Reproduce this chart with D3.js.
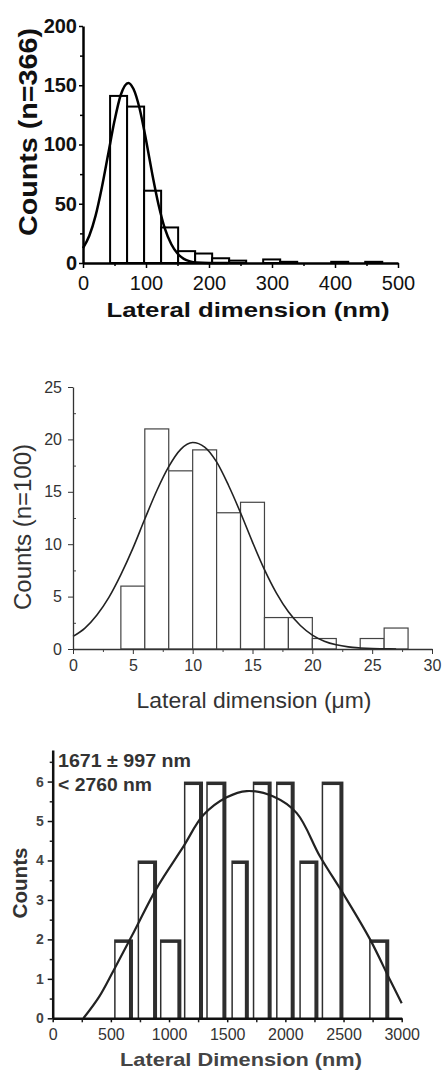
<!DOCTYPE html>
<html>
<head>
<meta charset="utf-8">
<script src="https://cdn.jsdelivr.net/npm/d3@7"></script>
<style>
body { margin: 0; background: #fff; }
svg { display: block; font-family: "Liberation Sans", Arial, sans-serif; }
</style>
</head>
<body>
<div id="chart"></div>
<script>
// Panel 1 - histogram (n=366), nm
var p1BinLeft = [43, 70, 97, 124, 151, 178, 205, 232, 286, 313, 394, 448];
var p1BinWidth = 27;
var p1Counts = [141, 132, 61, 30, 10, 8, 4, 2, 3, 1, 1, 1];
var p1FitX = [0, 10, 20, 30, 40, 50, 60, 72, 80, 90, 100, 110, 120, 130, 140, 150, 160, 170, 180, 200, 230];
var p1FitY = [12.6, 23, 40, 64, 92, 120, 142, 152, 147, 130, 104, 75, 49, 29, 16, 8, 3.5, 1.4, 0.5, 0.1, 0];
var p1XTicks = [0, 100, 200, 300, 400, 500];
var p1YTicks = [0, 50, 100, 150, 200];

// Panel 2 - histogram (n=100), um
var p2BinLeft = [4, 6, 8, 10, 12, 14, 16, 18, 20, 22, 24, 26];
var p2BinWidth = 2;
var p2Counts = [6, 21, 17, 19, 13, 14, 3, 3, 1, 0, 1, 2];
var p2FitX = [0, 1, 2, 3, 4, 5, 6, 7, 8, 9, 10, 11, 12, 13, 14, 15, 16, 17, 18, 19, 20, 21, 22, 23, 24, 25, 26, 27];
var p2FitY = [1.2, 2.0, 3.25, 4.93, 7.1, 9.6, 12.4, 15.1, 17.4, 19.05, 19.7, 19.27, 17.85, 15.6, 13.0, 10.2, 7.57, 5.33, 3.55, 2.24, 1.33, 0.75, 0.4, 0.2, 0.1, 0.04, 0.02, 0];
var p2XTicks = [0, 5, 10, 15, 20, 25, 30];
var p2YTicks = [0, 5, 10, 15, 20, 25];

// Panel 3 - histogram, nm
var p3Left = [528, 730, 922, 1128, 1320, 1536, 1720, 1920, 2120, 2312, 2720];
var p3Right = [690, 897, 1106, 1292, 1493, 1686, 1882, 2080, 2284, 2499, 2893];
var p3Counts = [2, 4, 2, 6, 6, 4, 6, 6, 4, 6, 2];
var p3FitX = [264, 400, 521, 700, 894, 1123, 1295, 1496, 1668, 1897, 2098, 2298, 2499, 2728, 2900, 3000];
var p3FitY = [0, 0.55, 1.2, 2.2, 3.3, 4.35, 5.15, 5.6, 5.76, 5.62, 5.2, 4.1, 3.15, 2.0, 0.97, 0.38];
var p3XTicks = [0, 500, 1000, 1500, 2000, 2500, 3000];
var p3YTicks = [0, 1, 2, 3, 4, 5, 6];
var p3Notes = ["1671 \u00b1 997 nm", "< 2760 nm"];

var fmt = d3.format("d");

var svg = d3.select("#chart")
            .append("svg")
            .attr("width", 443)
            .attr("height", 1072);

// style helper for axes
function styleAxis(sel, stroke, width, size, weight, color) {
    sel.select(".domain").attr("stroke", stroke).attr("stroke-width", width);
    sel.selectAll(".tick line").attr("stroke", stroke).attr("stroke-width", Math.max(1, width * 0.6));
    sel.selectAll("text")
       .attr("font-size", size)
       .attr("font-weight", weight)
       .attr("font-family", "'Liberation Sans', Arial, sans-serif")
       .attr("fill", color);
}
function minorAxis(g, axis, stroke, width) {
    g.call(axis.tickFormat(""));
    g.select(".domain").remove();
    g.selectAll(".tick line").attr("stroke", stroke).attr("stroke-width", width);
}

// ---------- Panel 1 ----------
var x1 = d3.scaleLinear().domain([0, 500]).range([83, 398]);
var y1 = d3.scaleLinear().domain([0, 200]).range([263, 26]);
var g1 = svg.append("g");

g1.selectAll("rect.bar1")
  .data(p1Counts)
  .enter()
  .append("rect")
  .attr("class", "bar1")
  .attr("x", (d, i) => x1(p1BinLeft[i]))
  .attr("y", d => y1(d))
  .attr("width", (d, i) => x1(p1BinLeft[i] + p1BinWidth) - x1(p1BinLeft[i]))
  .attr("height", d => y1(0) - y1(d))
  .attr("fill", "white")
  .attr("stroke", "#000")
  .attr("stroke-width", 2);

var line1 = d3.line().x(d => x1(d[0])).y(d => y1(d[1])).curve(d3.curveMonotoneX);
g1.append("path")
  .datum(p1FitX.map((v, i) => [v, p1FitY[i]]))
  .attr("d", line1)
  .attr("fill", "none")
  .attr("stroke", "#000")
  .attr("stroke-width", 2.5);

minorAxis(g1.append("g").attr("transform", "translate(0,263)"),
          d3.axisBottom(x1).tickValues(d3.range(50, 500, 100)).tickSize(3).tickSizeOuter(0), "#000", 1.5);
minorAxis(g1.append("g").attr("transform", "translate(83,0)"),
          d3.axisLeft(y1).tickValues(d3.range(25, 200, 50)).tickSize(3).tickSizeOuter(0), "#000", 1.5);
g1.append("g")
  .attr("transform", "translate(0,263)")
  .call(d3.axisBottom(x1).tickValues(p1XTicks).tickFormat(fmt).tickSize(5).tickSizeOuter(0).tickPadding(8))
  .call(styleAxis, "#000", 2.5, 20, "normal", "#111");
g1.append("g")
  .attr("transform", "translate(83,0)")
  .call(d3.axisLeft(y1).tickValues(p1YTicks).tickFormat(fmt).tickSize(4).tickSizeOuter(0).tickPadding(2))
  .call(styleAxis, "#000", 2.5, 20, "bold", "#111");

g1.append("text")
  .attr("transform", "translate(37,132) rotate(-90)")
  .attr("text-anchor", "middle")
  .attr("font-size", 25)
  .attr("font-weight", "bold")
  .attr("fill", "#111")
  .attr("textLength", 208)
  .attr("lengthAdjust", "spacingAndGlyphs")
  .text("Counts (n=366)");
g1.append("text")
  .attr("x", 248)
  .attr("y", 317)
  .attr("text-anchor", "middle")
  .attr("font-size", 21)
  .attr("font-weight", "bold")
  .attr("fill", "#111")
  .attr("textLength", 283)
  .attr("lengthAdjust", "spacingAndGlyphs")
  .text("Lateral dimension (nm)");

// ---------- Panel 2 ----------
var x2 = d3.scaleLinear().domain([0, 30]).range([73, 432]);
var y2 = d3.scaleLinear().domain([0, 25]).range([649, 387]);
var g2 = svg.append("g");

g2.selectAll("rect.bar2")
  .data(p2Counts)
  .enter()
  .append("rect")
  .attr("class", "bar2")
  .attr("x", (d, i) => x2(p2BinLeft[i]))
  .attr("y", d => y2(d))
  .attr("width", (d, i) => x2(p2BinLeft[i] + p2BinWidth) - x2(p2BinLeft[i]))
  .attr("height", d => y2(0) - y2(d))
  .attr("fill", "white")
  .attr("stroke", "#444")
  .attr("stroke-width", 1.2);

var line2 = d3.line().x(d => x2(d[0])).y(d => y2(d[1])).curve(d3.curveMonotoneX);
g2.append("path")
  .datum(p2FitX.map((v, i) => [v, p2FitY[i]]))
  .attr("d", line2)
  .attr("fill", "none")
  .attr("stroke", "#222")
  .attr("stroke-width", 1.6);

minorAxis(g2.append("g").attr("transform", "translate(0,649)"),
          d3.axisBottom(x2).tickValues(d3.range(2.5, 30, 5)).tickSize(3).tickSizeOuter(0), "#444", 1);
minorAxis(g2.append("g").attr("transform", "translate(73,0)"),
          d3.axisRight(y2).tickValues(d3.range(2.5, 25, 5)).tickSize(3).tickSizeOuter(0), "#444", 1);
g2.append("g")
  .attr("transform", "translate(0,649)")
  .call(d3.axisBottom(x2).tickValues(p2XTicks).tickFormat(fmt).tickSize(5).tickSizeOuter(0).tickPadding(6))
  .call(styleAxis, "#333", 1.3, 16, "normal", "#333");
g2.append("g")
  .attr("transform", "translate(73,0)")
  .call(d3.axisLeft(y2).tickValues(p2YTicks).tickFormat(fmt).tickSize(5).tickSizeOuter(0).tickPadding(6))
  .call(styleAxis, "#333", 1.3, 16, "normal", "#333");

g2.append("text")
  .attr("transform", "translate(31,527) rotate(-90)")
  .attr("text-anchor", "middle")
  .attr("font-size", 23)
  .attr("fill", "#333")
  .attr("textLength", 166)
  .attr("lengthAdjust", "spacingAndGlyphs")
  .text("Counts (n=100)");
g2.append("text")
  .attr("x", 254)
  .attr("y", 708)
  .attr("text-anchor", "middle")
  .attr("font-size", 22)
  .attr("fill", "#333")
  .attr("textLength", 235)
  .attr("lengthAdjust", "spacingAndGlyphs")
  .text("Lateral dimension (\u03bcm)");

// ---------- Panel 3 ----------
var x3 = d3.scaleLinear().domain([0, 3000]).range([52.7, 401.7]);
var y3 = d3.scaleLinear().domain([0, 6.8]).range([1018.3, 750]);
var g3 = svg.append("g");

var bars3 = g3.selectAll("g.bar3")
              .data(p3Counts)
              .enter()
              .append("g")
              .attr("class", "bar3");
bars3.append("rect")
     .attr("x", (d, i) => x3(p3Left[i]))
     .attr("y", d => y3(d))
     .attr("width", (d, i) => x3(p3Right[i]) - x3(p3Left[i]))
     .attr("height", d => y3(0) - y3(d))
     .attr("fill", "#2e2e2e");
bars3.append("rect")
     .attr("x", (d, i) => x3(p3Left[i]) + 1.5)
     .attr("y", d => y3(d) + 3.5)
     .attr("width", (d, i) => x3(p3Right[i]) - x3(p3Left[i]) - 5.5)
     .attr("height", d => y3(0) - y3(d) - 3.5)
     .attr("fill", "white");

var line3 = d3.line().x(d => x3(d[0])).y(d => y3(d[1])).curve(d3.curveCatmullRom);
g3.append("path")
  .datum(p3FitX.map((v, i) => [v, p3FitY[i]]))
  .attr("d", line3)
  .attr("fill", "none")
  .attr("stroke", "#222")
  .attr("stroke-width", 2.2);

minorAxis(g3.append("g").attr("transform", "translate(0,1018.3)"),
          d3.axisBottom(x3).tickValues(d3.range(250, 3000, 500)).tickSize(4).tickSizeOuter(0), "#222", 1.5);
minorAxis(g3.append("g").attr("transform", "translate(52.7,0)"),
          d3.axisLeft(y3).tickValues(d3.range(0.5, 6.6, 1)).tickSize(3).tickSizeOuter(0), "#222", 1.5);
g3.append("g")
  .attr("transform", "translate(0,1018.3)")
  .call(d3.axisBottom(x3).tickValues(p3XTicks).tickFormat(fmt).tickSize(4).tickSizeOuter(0).tickPadding(6))
  .call(styleAxis, "#111", 2.5, 16, "normal", "#333");
g3.append("g")
  .attr("transform", "translate(52.7,0)")
  .call(d3.axisLeft(y3).tickValues(p3YTicks).tickFormat(fmt).tickSize(5).tickSizeOuter(0).tickPadding(4))
  .call(styleAxis, "#111", 2.5, 14, "bold", "#444");

g3.selectAll("text.note")
  .data(p3Notes)
  .enter()
  .append("text")
  .attr("class", "note")
  .attr("x", 58)
  .attr("y", (d, i) => 767 + i * 23.5)
  .attr("font-size", 18)
  .attr("font-weight", "bold")
  .attr("fill", "#333")
  .attr("textLength", (d, i) => i == 0 ? 133 : 94)
  .attr("lengthAdjust", "spacingAndGlyphs")
  .text(d => d);

g3.append("text")
  .attr("transform", "translate(27,883) rotate(-90)")
  .attr("text-anchor", "middle")
  .attr("font-size", 21)
  .attr("font-weight", "bold")
  .attr("fill", "#333")
  .attr("textLength", 71)
  .attr("lengthAdjust", "spacingAndGlyphs")
  .text("Counts");
g3.append("text")
  .attr("x", 241)
  .attr("y", 1066)
  .attr("text-anchor", "middle")
  .attr("font-size", 19)
  .attr("font-weight", "bold")
  .attr("fill", "#444")
  .attr("textLength", 242)
  .attr("lengthAdjust", "spacingAndGlyphs")
  .text("Lateral Dimension (nm)");
</script>
</body>
</html>
